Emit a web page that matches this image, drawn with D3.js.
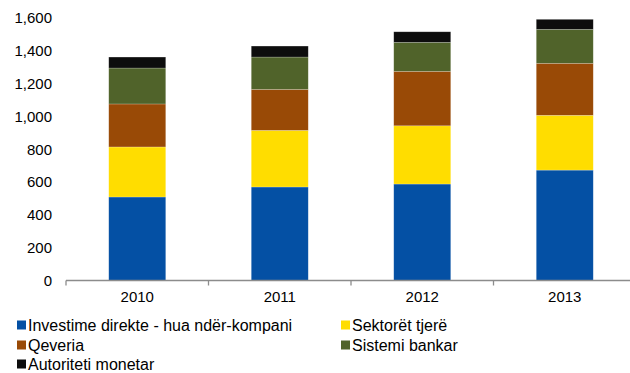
<!DOCTYPE html>
<html>
<head>
  <meta charset="utf-8">
  <script src="https://cdn.jsdelivr.net/npm/d3@7/dist/d3.min.js"></script>
</head>
<style>
  body { margin: 0; background: #fff; }
  svg { display: block; font-family: "Liberation Sans", Arial, sans-serif; }
</style>
<body>
  <svg id="chart" width="630" height="373"></svg>

  <script>
    // data (millions)
    var years = ['2010', '2011', '2012', '2013'];
    var seriesNames = ['Investime direkte - hua ndër-kompani', 'Sektorët tjerë', 'Qeveria', 'Sistemi bankar', 'Autoriteti monetar'];
    var investime = [509, 570, 588, 673];
    var sektoret = [305, 345, 355, 334];
    var qeveria = [262, 250, 332, 317];
    var sistemi = [219, 197, 177, 207];
    var autoriteti = [67, 67, 64, 61];
    var yTicks = [0, 200, 400, 600, 800, 1000, 1200, 1400, 1600];

    var colors = ['#0450a4', '#ffdd00', '#994a06', '#50632a', '#0d0d0d'];
    var keys = ['investime', 'sektoret', 'qeveria', 'sistemi', 'autoriteti'];

    var rows = years.map(function (yr, i) {
      return { year: yr, investime: investime[i], sektoret: sektoret[i], qeveria: qeveria[i], sistemi: sistemi[i], autoriteti: autoriteti[i] };
    });
    var stacked = d3.stack().keys(keys)(rows);

    var svg = d3.select('#chart');

    var x = d3.scaleBand().domain(years).range([66, 636]).paddingInner(0.6).paddingOuter(0.3);
    var y = d3.scaleLinear().domain([0, 1600]).range([280.5, 18]);

    // bars
    svg.append('g')
      .selectAll('g')
      .data(stacked)
      .enter()
      .append('g')
      .attr('fill', function (d, i) { return colors[i]; })
      .selectAll('rect')
      .data(function (d) { return d; })
      .enter()
      .append('rect')
      .attr('x', function (d) { return x(d.data.year); })
      .attr('y', function (d) { return y(d[1]); })
      .attr('width', x.bandwidth())
      .attr('height', function (d) { return y(d[0]) - y(d[1]); })
      .attr('stroke', 'rgba(255,255,255,0.35)')
      .attr('stroke-width', 0.6);

    // y axis, labels only
    var yAxis = svg.append('g')
      .attr('transform', 'translate(66,0)')
      .call(d3.axisLeft(y).tickValues(yTicks).tickFormat(d3.format(',')).tickSize(0).tickPadding(14));
    yAxis.select('.domain').remove();
    yAxis.selectAll('text').attr('font-size', '15px').attr('fill', '#000').attr('font-family', 'Liberation Sans, Arial, sans-serif');

    // x axis
    var xAxis = svg.append('g')
      .attr('transform', 'translate(0,' + y(0) + ')')
      .call(d3.axisBottom(x).tickSize(0).tickPadding(11));
    xAxis.select('.domain').attr('stroke', '#8c8c8c').attr('stroke-width', 1.3)
      .attr('d', 'M' + x.range()[0] + ',0H' + x.range()[1]);
    xAxis.selectAll('text').attr('font-size', '15px').attr('fill', '#000').attr('font-family', 'Liberation Sans, Arial, sans-serif');
    xAxis.selectAll('.bound')
      .data(years)
      .enter()
      .append('line')
      .attr('class', 'bound')
      .attr('x1', function (d, i) { return x.range()[0] + i * x.step(); })
      .attr('x2', function (d, i) { return x.range()[0] + i * x.step(); })
      .attr('y1', 0)
      .attr('y2', 5)
      .attr('stroke', '#8c8c8c')
      .attr('stroke-width', 1.3);

    // legend
    var legendPos = [[17, 325], [341, 325], [17, 345], [341, 345], [17, 364]];
    var legend = svg.append('g')
      .selectAll('g')
      .data(seriesNames)
      .enter()
      .append('g')
      .attr('transform', function (d, i) { return 'translate(' + legendPos[i][0] + ',' + legendPos[i][1] + ')'; });
    legend.append('rect')
      .attr('x', 0)
      .attr('y', -4.5)
      .attr('width', 9)
      .attr('height', 9)
      .attr('fill', function (d, i) { return colors[i]; });
    legend.append('text')
      .attr('x', 11)
      .attr('y', 0)
      .attr('dy', '0.35em')
      .attr('font-size', '16px')
      .attr('fill', '#000')
      .text(function (d) { return d; });
  </script>
</body>
</html>
